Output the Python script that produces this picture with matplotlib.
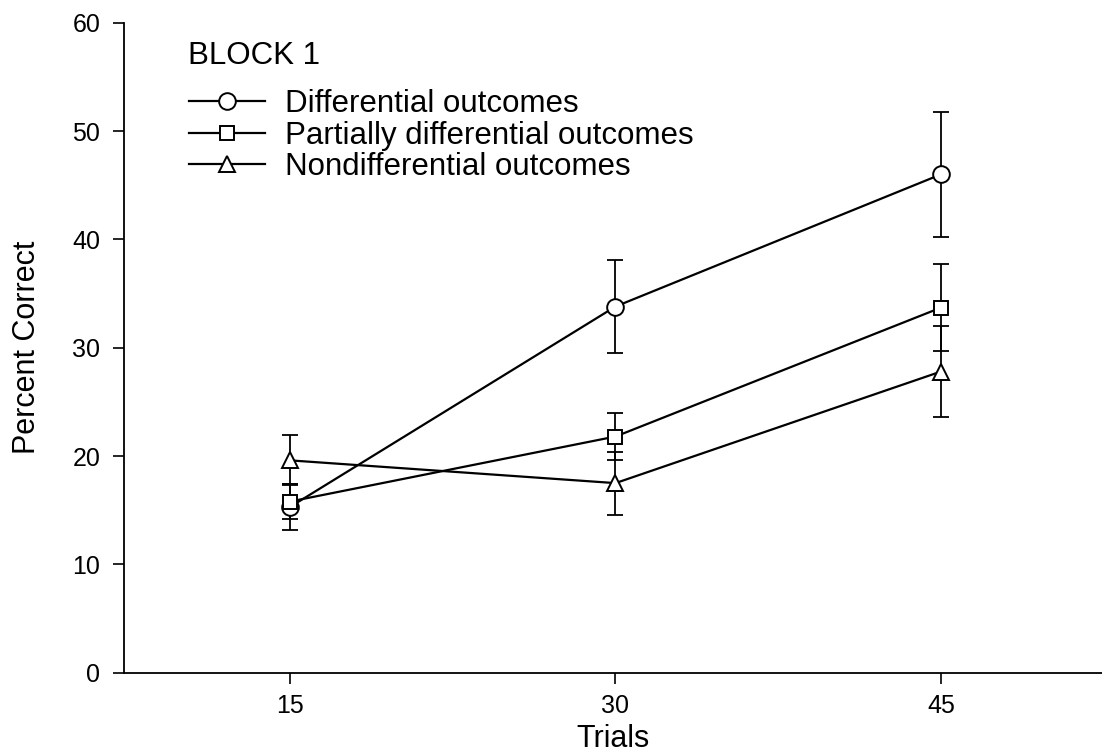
import numpy as np
import matplotlib
matplotlib.use("Agg")
import matplotlib.pyplot as plt

plt.rcParams['font.family'] = ['Liberation Sans', 'DejaVu Sans']

trials = [15, 30, 45]

diff_mean = [15.3, 33.8, 46.0]
diff_err = [2.1, 4.3, 5.75]

partial_mean = [15.8, 21.8, 33.7]
partial_err = [1.6, 2.2, 4.0]

nondiff_mean = [19.6, 17.5, 27.8]
nondiff_err = [2.3, 2.9, 4.2]

labels = ["Differential outcomes", "Partially differential outcomes",
          "Nondifferential outcomes"]
markers = ["o", "s", "^"]
msizes = [12, 10.5, 11.5]

W, H = 1102, 756
fig = plt.figure(figsize=(W / 100, H / 100), dpi=100)
ax = fig.add_axes([124 / W, 1 - 672.7 / H, 1 - 124 / W, (672.7 - 22.7) / H])

series = [(diff_mean, diff_err), (partial_mean, partial_err), (nondiff_mean, nondiff_err)]
handles = []
for (m, e), lab, mk, ms in zip(series, labels, markers, msizes):
    ax.errorbar(trials, m, yerr=e, fmt='none', ecolor='black', elinewidth=1.3,
                capsize=5.5, capthick=1.3, zorder=2)
    h, = ax.plot(trials, m, color='black', lw=1.6, marker=mk, ms=ms,
                 mfc='white', mec='black', mew=1.4, label=lab, zorder=3)
    handles.append(h)

ax.set_xlim(7.35, 52.42)
ax.set_ylim(0, 60)
ax.set_xticks(trials)
ax.set_yticks(np.arange(0, 61, 10))
ax.spines['top'].set_visible(False)
ax.spines['right'].set_visible(False)
ax.spines['left'].set_linewidth(1.3)
ax.spines['bottom'].set_linewidth(1.3)
ax.tick_params(axis='both', direction='out', length=8, width=1.2, labelsize=18)
ax.tick_params(axis='y', pad=9)
ax.tick_params(axis='x', pad=7)

ax.set_xlabel("Trials", fontsize=22)
ax.set_ylabel("Percent Correct", fontsize=22)
ax.xaxis.set_label_coords(0.5, (672.7 - 724) / 650)
ax.yaxis.set_label_coords((42 - 124) / 978, 0.5)

fig.text(188 / W, 1 - 56 / H, "BLOCK 1", fontsize=22.5, ha='left', va='center')

leg = ax.legend(handles=handles, loc='upper left',
                bbox_to_anchor=(189 / W, 1 - 89 / H),
                bbox_transform=fig.transFigure, frameon=False, fontsize=22.5,
                borderpad=0, handlelength=2.43, handletextpad=0.64,
                labelspacing=0.05, borderaxespad=0)

fig.savefig("out.png", dpi=100)
